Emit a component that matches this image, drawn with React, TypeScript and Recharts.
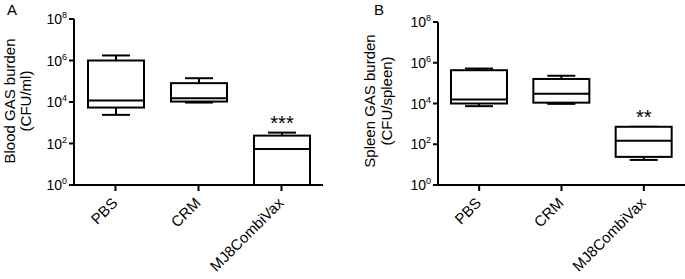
import React from 'react';
import { ComposedChart, Bar, XAxis, YAxis } from 'recharts';

const groups = ['PBS', 'CRM', 'MJ8CombiVax'];
const yTicks = [1, 1e2, 1e4, 1e6, 1e8];

const bloodMin = [2.4e3, 9.4e3, 1];
const bloodQ1 = [5.4e3, 1.05e4, 1];
const bloodMedian = [1.17e4, 1.5e4, 55];
const bloodQ3 = [1.0e6, 8.1e4, 240];
const bloodMax = [1.75e6, 1.4e5, 335];
const bloodSig = ['', '', '***'];

const spleenMin = [7.4e3, 9.6e3, 17];
const spleenQ1 = [1.0e4, 1.1e4, 24];
const spleenMedian = [1.58e4, 3.0e4, 148];
const spleenQ3 = [4.3e5, 1.6e5, 720];
const spleenMax = [5.2e5, 2.3e5, 720];
const spleenSig = ['', '', '**'];

const FONT = '"Liberation Sans", Arial, Helvetica, sans-serif';

const buildRows = (mn: number[], q1: number[], md: number[], q3: number[], mx: number[], sig: string[]) =>
  groups.map((g, i) => ({
    name: g,
    range: [mn[i], mx[i]],
    min: mn[i],
    q1: q1[i],
    median: md[i],
    q3: q3[i],
    max: mx[i],
    sig: sig[i],
  }));

const bloodRows = buildRows(bloodMin, bloodQ1, bloodMedian, bloodQ3, bloodMax, bloodSig);
const spleenRows = buildRows(spleenMin, spleenQ1, spleenMedian, spleenQ3, spleenMax, spleenSig);

const BoxShape = (props: any) => {
  const { x, y, width, height, payload } = props;
  if (!payload) return null;
  const top = Math.min(y, y + height);
  const bot = Math.max(y, y + height);
  const lo = Math.log10(payload.min);
  const hi = Math.log10(payload.max);
  const py = (v: number) => (hi === lo ? top : top + ((bot - top) * (hi - Math.log10(v))) / (hi - lo));
  const cx = x + width / 2;
  const capHalf = width / 4;
  const s = { stroke: '#000', strokeWidth: 2 };
  const yMax = py(payload.max);
  const yMin = py(payload.min);
  const yQ3 = py(payload.q3);
  const yQ1 = py(payload.q1);
  const yMed = py(payload.median);
  return (
    <g>
      <line x1={cx} x2={cx} y1={yMax} y2={yQ3} {...s} />
      <line x1={cx} x2={cx} y1={yQ1} y2={yMin} {...s} />
      <line x1={cx - capHalf} x2={cx + capHalf} y1={yMax} y2={yMax} {...s} />
      <line x1={cx - capHalf} x2={cx + capHalf} y1={yMin} y2={yMin} {...s} />
      <rect x={x} y={yQ3} width={width} height={Math.max(0, yQ1 - yQ3)} fill="#fff" {...s} />
      <line x1={x} x2={x + width} y1={yMed} y2={yMed} {...s} />
      {payload.sig ? (
        <text x={cx} y={yMax - 3} textAnchor="middle" fontSize={20} fontFamily={FONT} fill="#000">
          {payload.sig}
        </text>
      ) : null}
    </g>
  );
};

const YTick = (props: any) => {
  const { x, y, payload } = props;
  const exp = Math.round(Math.log10(payload.value));
  return (
    <text x={x} y={y + 5} textAnchor="end" fontSize={14} fontFamily={FONT} fill="#000">
      <tspan>10</tspan>
      <tspan fontSize={9} dy={-6}>{exp}</tspan>
    </text>
  );
};

const XTick = (props: any) => {
  const { x, payload } = props;
  return (
    <g transform={`translate(${x + 3},${204})`}>
      <text x={0} y={0} transform="rotate(-45)" textAnchor="end" fontSize={15} fontFamily={FONT} fill="#000">
        {payload.value}
      </text>
    </g>
  );
};

const Titles = (props: any) => {
  const { letter, letterX, lines, lineXs, cy } = props;
  return (
    <g>
      <text x={letterX} y={15} fontSize={15} fontFamily={FONT} fill="#000">
        {letter}
      </text>
      {lines.map((t: string, i: number) => (
        <text
          key={i}
          x={lineXs[i]}
          y={cy}
          transform={`rotate(-90 ${lineXs[i]} ${cy})`}
          textAnchor="middle"
          fontSize={15}
          fontFamily={FONT}
          fill="#000"
        >
          {t}
        </text>
      ))}
    </g>
  );
};

const Panel = (props: any) => {
  const { rows, margin, titles } = props;
  return (
    <ComposedChart width={340} height={279} data={rows} margin={margin}>
      <XAxis
        dataKey="name"
        type="category"
        height={30}
        axisLine={{ stroke: '#000', strokeWidth: 2 }}
        tickLine={{ stroke: '#000', strokeWidth: 2 }}
        tickSize={6}
        tick={<XTick />}
        interval={0}
        padding={{ left: 0, right: 0 }}
      />
      <YAxis
        scale="log"
        domain={[1, 1e8]}
        ticks={yTicks}
        allowDataOverflow
        width={50}
        axisLine={{ stroke: '#000', strokeWidth: 2 }}
        tickLine={{ stroke: '#000', strokeWidth: 2 }}
        tickSize={5}
        tickMargin={2}
        tick={<YTick />}
        interval={0}
        label={titles}
      />
      <Bar dataKey="range" barSize={56} shape={<BoxShape />} isAnimationActive={false} />
    </ComposedChart>
  );
};

export default function App() {
  return (
    <div style={{ position: 'absolute', left: 0, top: 0, width: 685, height: 279, background: '#fff' }}>
      <div style={{ position: 'absolute', left: 0, top: 0 }}>
        <Panel
          rows={bloodRows}
          margin={{ top: 19, right: 17, bottom: 64, left: 24 }}
          titles={
            <Titles letter="A" letterX={7} lines={['Blood GAS burden', '(CFU/ml)']} lineXs={[15, 30.5]} cy={101} />
          }
        />
      </div>
      <div style={{ position: 'absolute', left: 345, top: 0 }}>
        <Panel
          rows={spleenRows}
          margin={{ top: 22, right: 0, bottom: 64, left: 43 }}
          titles={
            <Titles letter="B" letterX={29} lines={['Spleen GAS burden', '(CFU/spleen)']} lineXs={[30, 47]} cy={101} />
          }
        />
      </div>
    </div>
  );
}
